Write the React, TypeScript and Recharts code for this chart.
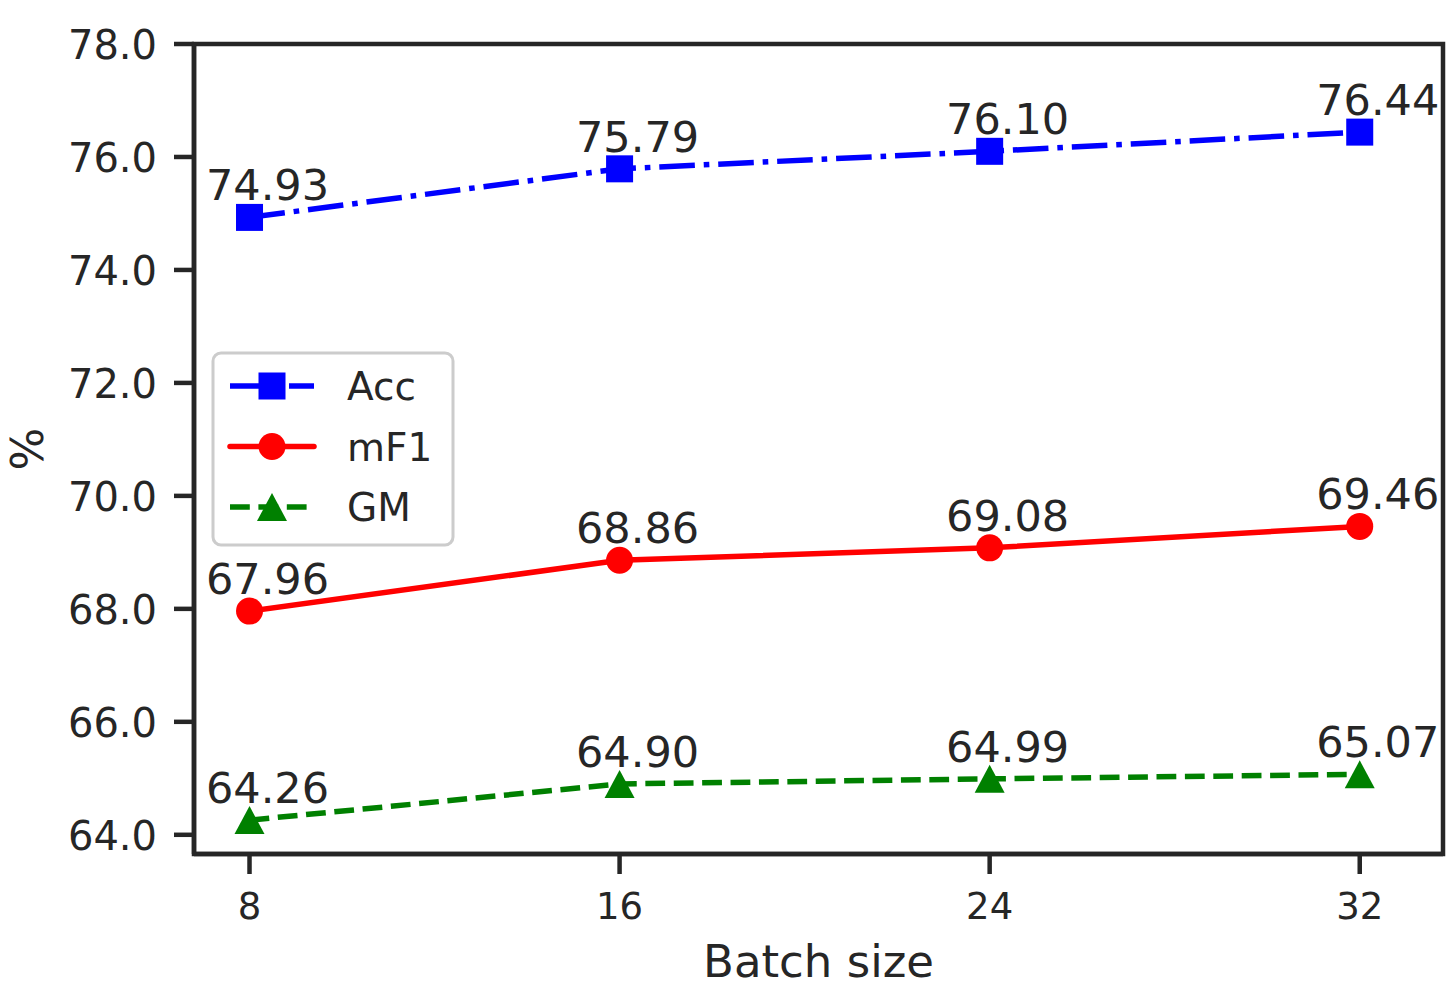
import React from "react";
import {
  LineChart,
  Line,
  XAxis,
  YAxis,
  LabelList,
  ReferenceArea,
} from "recharts";

const batchSizes = [8, 16, 24, 32];
const accValues = [74.93, 75.79, 76.1, 76.44];
const mf1Values = [67.96, 68.86, 69.08, 69.46];
const gmValues = [64.26, 64.9, 64.99, 65.07];
const yTicks = [64, 66, 68, 70, 72, 74, 76, 78];

const data = batchSizes.map((b, i) => ({
  batch: b,
  acc: accValues[i],
  mf1: mf1Values[i],
  gm: gmValues[i],
}));

const FONT = "DejaVu Sans, sans-serif";
const INK = "#262626";
const X_DOMAIN = [6.8, 33.8];
const Y_DOMAIN = [63.66, 78];

const BLUE_DASH = "35.6 8.9 5.6 8.9";
const GREEN_DASH = "19.8 8.6";

const SquareDot = (props: any) => {
  const { cx, cy, index } = props;
  return <rect key={"sq" + index} x={cx - 13.5} y={cy - 13.5} width={27} height={27} fill="#0000ff" />;
};

const CircleDot = (props: any) => {
  const { cx, cy, index } = props;
  return <circle key={"ci" + index} cx={cx} cy={cy} r={13.5} fill="#ff0000" />;
};

const TriangleDot = (props: any) => {
  const { cx, cy, index } = props;
  return (
    <polygon
      key={"tr" + index}
      points={`${cx},${cy - 14} ${cx - 15},${cy + 14} ${cx + 15},${cy + 14}`}
      fill="#008000"
    />
  );
};

const valueLabel = (props: any) => {
  const { x, y, value } = props;
  return (
    <text
      x={x + 18}
      y={y - 17}
      textAnchor="middle"
      fontFamily={FONT}
      fontSize={43}
      fill={INK}
    >
      {Number(value).toFixed(2)}
    </text>
  );
};

const YTick = (props: any) => {
  const { x, y, payload } = props;
  return (
    <text x={x} y={y + 15} textAnchor="end" fontFamily={FONT} fontSize={40} fill={INK}>
      {Number(payload.value).toFixed(1)}
    </text>
  );
};

const XTick = (props: any) => {
  const { x, y, payload } = props;
  return (
    <text x={x} y={y + 45} textAnchor="middle" fontFamily={FONT} fontSize={37} fill={INK}>
      {payload.value}
    </text>
  );
};

const legendItems = [
  { name: "Acc", color: "#0000ff", dash: BLUE_DASH, marker: "square" },
  { name: "mF1", color: "#ff0000", dash: undefined, marker: "circle" },
  { name: "GM", color: "#008000", dash: GREEN_DASH, marker: "triangle" },
];

function ChartLegend() {
  return (
    <svg
      width={246}
      height={198}
      style={{ position: "absolute", left: 210, top: 350 }}
    >
      <rect
        x={3}
        y={3}
        width={240}
        height={192}
        rx={8}
        fill="rgba(255,255,255,0.8)"
        stroke="#cccccc"
        strokeWidth={3}
      />
      {legendItems.map((it, i) => {
        const cy = 36 + i * 60.5;
        const mx = 62;
        return (
          <g key={it.name}>
            <line
              x1={20}
              x2={104}
              y1={cy}
              y2={cy}
              stroke={it.color}
              strokeWidth={5.5}
              strokeDasharray={it.dash}
              strokeLinecap={it.dash ? "butt" : "round"}
            />
            {it.marker === "square" && (
              <rect x={mx - 13.5} y={cy - 13.5} width={27} height={27} fill={it.color} />
            )}
            {it.marker === "circle" && <circle cx={mx} cy={cy} r={13.5} fill={it.color} />}
            {it.marker === "triangle" && (
              <polygon
                points={`${mx},${cy - 14} ${mx - 15},${cy + 14} ${mx + 15},${cy + 14}`}
                fill={it.color}
              />
            )}
            <text x={137} y={cy + 14} fontFamily={FONT} fontSize={39} fill={INK}>
              {it.name}
            </text>
          </g>
        );
      })}
    </svg>
  );
}

export default function App() {
  return (
    <div style={{ position: "absolute", left: 0, top: 0, width: 1451, height: 988, background: "#fff" }}>
      <LineChart
        width={1451}
        height={988}
        data={data}
        margin={{ top: 44, right: 8, left: 0, bottom: 0 }}
      >
        <XAxis
          dataKey="batch"
          type="number"
          domain={X_DOMAIN}
          allowDataOverflow
          ticks={batchSizes}
          height={134}
          tickSize={20}
          tickMargin={0}
          tick={<XTick />}
          stroke={INK}
          axisLine={{ stroke: INK, strokeWidth: 4.5 }}
          tickLine={{ stroke: INK, strokeWidth: 4.5 }}
          label={(p: any) => {
            const vb = p.viewBox;
            return (
              <text
                x={vb.x + vb.width / 2}
                y={vb.y + 123}
                textAnchor="middle"
                fontFamily={FONT}
                fontSize={45}
                fill={INK}
              >
                Batch size
              </text>
            );
          }}
        />
        <YAxis
          type="number"
          domain={Y_DOMAIN}
          allowDataOverflow
          ticks={yTicks}
          width={194}
          tickSize={20}
          tickMargin={17}
          tick={<YTick />}
          stroke={INK}
          axisLine={{ stroke: INK, strokeWidth: 4.5 }}
          tickLine={{ stroke: INK, strokeWidth: 4.5 }}
          label={(p: any) => {
            const vb = p.viewBox;
            const cy = vb.y + vb.height / 2;
            return (
              <text
                transform={`translate(43, ${cy}) rotate(-90)`}
                textAnchor="middle"
                fontFamily={FONT}
                fontSize={45}
                fill={INK}
              >
                %
              </text>
            );
          }}
        />
        <ReferenceArea
          x1={X_DOMAIN[0]}
          x2={X_DOMAIN[1]}
          y1={Y_DOMAIN[0]}
          y2={Y_DOMAIN[1]}
          ifOverflow="visible"
          fill="none"
          fillOpacity={0}
          stroke={INK}
          strokeWidth={4.5}
          strokeOpacity={1}
        />
        <Line
          dataKey="acc"
          stroke="#0000ff"
          strokeWidth={5.5}
          strokeDasharray={BLUE_DASH}
          dot={SquareDot}
          activeDot={false}
          isAnimationActive={false}
        >
          <LabelList dataKey="acc" content={valueLabel} />
        </Line>
        <Line
          dataKey="mf1"
          stroke="#ff0000"
          strokeWidth={5.5}
          dot={CircleDot}
          activeDot={false}
          isAnimationActive={false}
        >
          <LabelList dataKey="mf1" content={valueLabel} />
        </Line>
        <Line
          dataKey="gm"
          stroke="#008000"
          strokeWidth={5.5}
          strokeDasharray={GREEN_DASH}
          dot={TriangleDot}
          activeDot={false}
          isAnimationActive={false}
        >
          <LabelList dataKey="gm" content={valueLabel} />
        </Line>
      </LineChart>
      <ChartLegend />
    </div>
  );
}
